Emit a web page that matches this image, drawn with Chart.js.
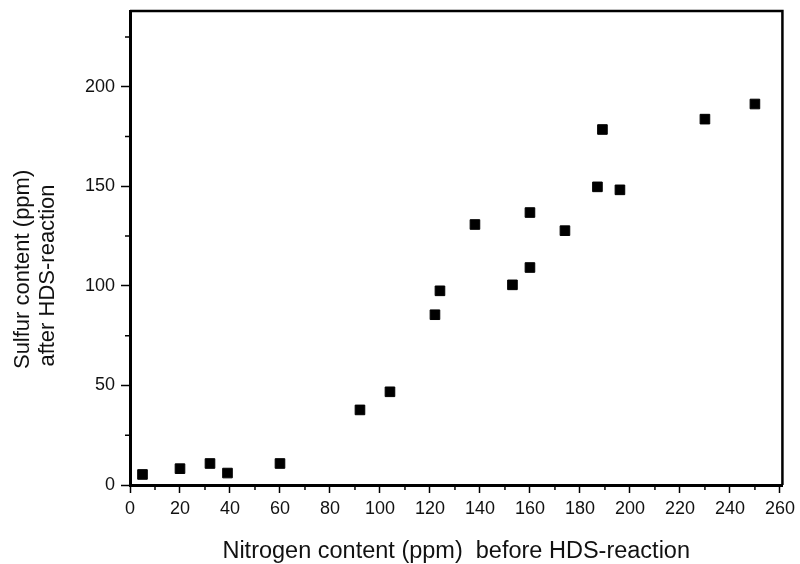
<!DOCTYPE html>
<html>
<head>
<meta charset="utf-8">
<script src="https://cdn.jsdelivr.net/npm/chart.js@4"></script>
<style>
  html, body { margin: 0; padding: 0; background: #fff; }
  #wrap { width: 800px; height: 564px; position: relative; }
</style>
</head>
<body>
<div id="wrap"><canvas id="grafico"></canvas></div>
<script>
// ===== DADOS =====
const nitrogen = [5, 20, 32, 39, 60, 92, 104, 122, 124, 138, 153, 160, 160, 174, 187, 189, 196, 230, 250];
const sulfur   = [5.3, 8.2, 10.8, 6, 10.8, 37.7, 46.8, 85.5, 97.5, 130.8, 100.5, 136.8, 109.2, 127.7, 149.7, 178.5, 148.2, 183.7, 191.3];

const xMinorTicks = [10, 30, 50, 70, 90, 110, 130, 150, 170, 190, 210, 230, 250];
const yMinorTicks = [25, 75, 125, 175, 225];

const pontos = nitrogen.map((n, i) => ({ x: n, y: sulfur[i] }));

// moldura + ticks menores
const moldura = {
    id: 'moldura',
    afterDraw(chart) {
        const { ctx, chartArea: a, scales } = chart;
        ctx.save();
        ctx.strokeStyle = '#000';
        ctx.lineWidth = 2.5;
        ctx.beginPath();
        ctx.moveTo(a.left, a.top);
        ctx.lineTo(a.right, a.top);
        ctx.lineTo(a.right, a.bottom);
        ctx.stroke();
        ctx.lineWidth = 1.5;
        ctx.beginPath();
        xMinorTicks.forEach(v => {
            const px = scales.x.getPixelForValue(v);
            ctx.moveTo(px, a.bottom);
            ctx.lineTo(px, a.bottom + 5);
        });
        yMinorTicks.forEach(v => {
            const py = scales.y.getPixelForValue(v);
            ctx.moveTo(a.left, py);
            ctx.lineTo(a.left - 5, py);
        });
        ctx.stroke();
        ctx.restore();
    }
};

Chart.defaults.font.family = "'Liberation Sans', Arial, sans-serif";
Chart.defaults.color = "#111";

const nb = '\u00A0';

new Chart(document.getElementById('grafico'), {
    type: 'scatter',
    data: {
        datasets: [{
            data: pontos,
            pointStyle: 'rect',
            pointRadius: 6.8,
            pointHoverRadius: 6.8,
            backgroundColor: '#000',
            borderColor: '#000',
            borderWidth: 1
        }]
    },
    options: {
        responsive: true,
        maintainAspectRatio: false,
        animation: false,
        layout: { padding: { left: 0, right: 17, top: 11, bottom: 0 } },
        plugins: { legend: { display: false }, tooltip: { enabled: false } },
        scales: {
            x: {
                type: 'linear',
                min: 0,
                max: 261,
                afterFit(s) { s.height = 79; },
                border: { color: '#000', width: 3 },
                grid: { drawOnChartArea: false, tickLength: 8, tickColor: '#000', tickWidth: 1.5 },
                ticks: { stepSize: 20, includeBounds: false, font: { size: 18 }, padding: 5, maxRotation: 0 },
                title: {
                    display: true,
                    text: 'Nitrogen content (ppm)  before HDS-reaction',
                    font: { size: 23.5 },
                    padding: { top: 4, bottom: -2 }
                }
            },
            y: {
                type: 'linear',
                min: 0,
                max: 238,
                afterFit(s) { s.width = 130; s.paddingTop = 0; },
                border: { color: '#000', width: 3 },
                grid: { drawOnChartArea: false, tickLength: 9, tickColor: '#000', tickWidth: 1.5 },
                ticks: { stepSize: 50, includeBounds: false, font: { size: 18 }, padding: 6 },
                title: {
                    display: true,
                    text: ['Sulfur content (ppm)' + nb.repeat(7), 'after HDS-reaction' + nb.repeat(9)],
                    font: { size: 22, lineHeight: 1.16 },
                    padding: { top: 10, bottom: 0 }
                }
            }
        }
    },
    plugins: [moldura]
});
</script>
</body>
</html>
